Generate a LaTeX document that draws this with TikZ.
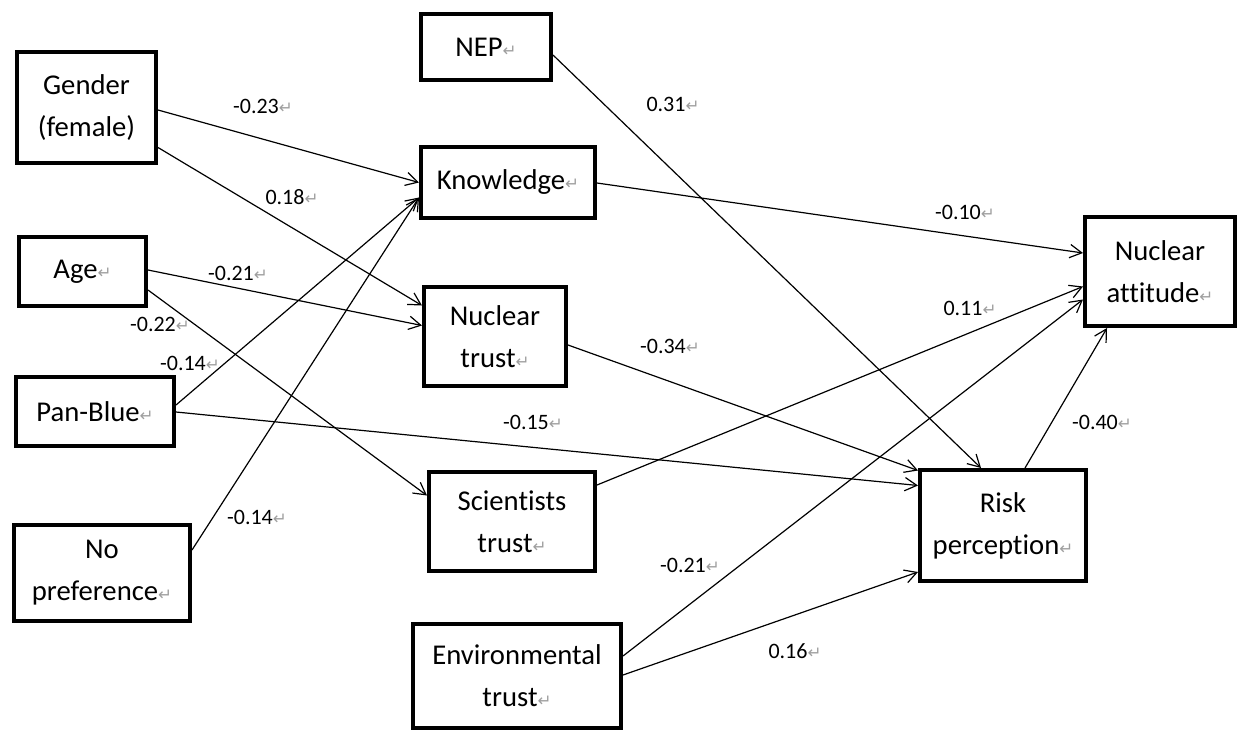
\documentclass[tikz,border=0pt]{standalone}
\usepackage{fontspec}
\setmainfont{Carlito}[Ligatures=NoCommon]
\newfontfamily\symfont{DejaVu Sans}
\usetikzlibrary{arrows.meta,calc}

% paragraph mark shown after each text
\newcommand{\retmark}{{\symfont\color{gray!75}\fontsize{12.5}{12.5}\selectfont\symbol{"21B5}}}

\tikzset{
  var/.style 2 args={draw, line width=3pt, align=center, inner sep=0pt,
    minimum width=#1*0.75pt, minimum height=#2*0.75pt,
    font=\fontsize{21.5}{31.5}\selectfont},
  path/.style={-{Straight Barb[length=9pt,width=10pt]}, line width=0.9pt},
  coef/.style={font=\fontsize{16.5}{20}\selectfont, inner sep=0pt}
}

\begin{document}
\begin{tikzpicture}[x=0.75pt,y=-0.75pt]
\useasboundingbox (0,0) rectangle (1241,732);

% exogenous variables
\node[var={139}{111}] (gender) at (86.5,107.5) {Gender\\(female)};
\node[var={127}{69}]  (age)    at (82.5,271.5) {Age\retmark};
\node[var={158}{69}]  (panblue) at (95,411.5) {Pan-Blue\retmark};
\node[var={176}{96}]  (nopref) at (102,573) {No\\preference\retmark};

% mediators
\node[var={130}{66}]  (nep)    at (486,47) {NEP\retmark};
\node[var={174}{71}]  (know)   at (508,182.5) {Knowledge\retmark};
\node[var={142}{99}]  (ntrust) at (495,336.5) {Nuclear\\trust\retmark};
\node[var={166}{99}]  (strust) at (512,521.5) {Scientists\\trust\retmark};
\node[var={208}{104}] (etrust) at (517,676) {Environmental\\trust\retmark};

% outcomes
\node[var={150}{109}] (natt)   at (1160,271.5) {Nuclear\\attitude\retmark};
\node[var={166}{111}] (risk)   at (1003,525.5) {Risk\\perception\retmark};

% structural paths
\draw[path] ($(gender.east)+(0,2.5)$) -- (know.west);
\draw[path] ($(gender.east)+(0,40)$) -- ($(ntrust.west)+(0,-31)$);
\draw[path] ($(age.east)+(0,-1.5)$) -- ($(ntrust.west)+(0,-11)$);
\draw[path] ($(age.east)+(0,18.5)$) -- ($(strust.west)+(0,-26)$);
\draw[path] ($(panblue.east)+(0,-6.5)$) -- ($(know.west)+(0,15)$);
\draw[path] ($(nopref.east)+(0,-23)$) -- ($(know.west)+(0,15)$);
\draw[path] ($(panblue.east)+(0,0.5)$) -- ($(risk.west)+(0,-40)$);
\draw[path] ($(nep.east)+(0,8)$) -- ($(risk.north)+(-22,0)$);
\draw[path] ($(know.east)+(0,0.5)$) -- ($(natt.west)+(0,-18.5)$);
\draw[path] ($(ntrust.east)+(0,8.5)$) -- ($(risk.west)+(0,-55)$);
\draw[path] ($(strust.east)+(0,-36.5)$) -- ($(natt.west)+(0,15)$);
\draw[path] ($(etrust.east)+(0,-20)$) -- ($(natt.west)+(0,28)$);
\draw[path] ($(etrust.east)+(0,-1)$) -- ($(risk.west)+(0,46.5)$);
\draw[path] ($(risk.north)+(22,0)$) -- ($(natt.south)+(-53,0)$);

% path coefficients
\node[coef] (c1)  at (263,106) {-0.23\retmark};
\node[coef] (c2)  at (292,197) {0.18\retmark};
\node[coef] (c3)  at (238,273) {-0.21\retmark};
\node[coef] (c4)  at (160,324) {-0.22\retmark};
\node[coef] (c5)  at (190,363) {-0.14\retmark};
\node[coef] (c6)  at (257,517) {-0.14\retmark};
\node[coef] (c7)  at (533,422) {-0.15\retmark};
\node[coef] (c8)  at (673,104) {0.31\retmark};
\node[coef] (c9)  at (965,212) {-0.10\retmark};
\node[coef] (c10) at (670,346) {-0.34\retmark};
\node[coef] (c11) at (970,308) {0.11\retmark};
\node[coef] (c12) at (690,565) {-0.21\retmark};
\node[coef] (c13) at (795,651) {0.16\retmark};
\node[coef] (c14) at (1102,422) {-0.40\retmark};
\end{tikzpicture}
\end{document}
